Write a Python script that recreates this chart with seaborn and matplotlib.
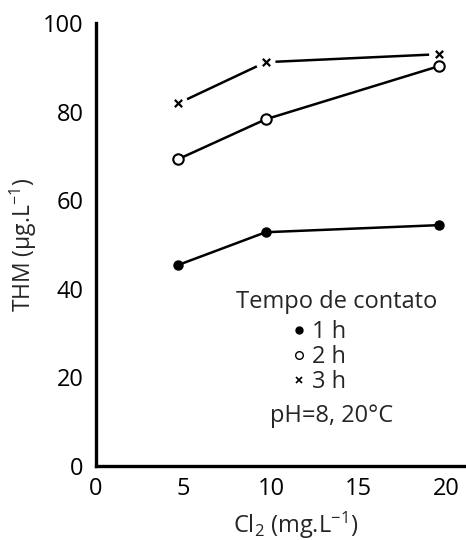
import matplotlib
matplotlib.use("Agg")
import matplotlib.pyplot as plt
from matplotlib.lines import Line2D
import seaborn as sns
import pandas as pd

# Chlorine dose (mg/L) and THM formation (ug/L) per contact time
cl2_dose = [4.7, 9.7, 19.6]
thm_1h = [45.4, 52.8, 54.4]
thm_2h = [69.3, 78.3, 90.3]
thm_3h = [81.9, 91.2, 93.0]
series_labels = ["1 h", "2 h", "3 h"]
x_ticks = [0, 5, 10, 15, 20]
y_ticks = [0, 20, 40, 60, 80, 100]

df = pd.DataFrame({
    "cl2": cl2_dose * 3,
    "thm": thm_1h + thm_2h + thm_3h,
    "tempo": [s for s in series_labels for _ in cl2_dose],
})

sns.set_theme(style="white")
plt.rcParams["font.family"] = ["Open Sans", "DejaVu Sans"]
plt.rcParams["mathtext.fontset"] = "custom"
plt.rcParams["mathtext.rm"] = "Open Sans"
plt.rcParams["mathtext.default"] = "regular"

fig = plt.figure(figsize=(4.66, 5.4), dpi=100)
ax = fig.add_axes([0.206, 0.137, 0.794, 0.820])

lw = 1.8
d1 = df[df.tempo == "1 h"]
d2 = df[df.tempo == "2 h"]
d3 = df[df.tempo == "3 h"]

# 3 h: line broken around the cross markers
sns.lineplot(data=d3, x="cl2", y="thm", color="black", lw=lw, ax=ax,
             zorder=2, legend=False)
sns.scatterplot(data=d3, x="cl2", y="thm", marker="o", s=200, color="white",
                edgecolor="none", linewidth=0, ax=ax, zorder=2.5, legend=False)
sns.scatterplot(data=d3, x="cl2", y="thm", marker="x", s=28, color="black",
                linewidth=1.6, ax=ax, zorder=3, legend=False)

sns.lineplot(data=d2, x="cl2", y="thm", color="black", lw=lw, marker="o",
             markersize=7.5, markerfacecolor="white", markeredgecolor="black",
             markeredgewidth=1.5, ax=ax, zorder=4, legend=False)
sns.lineplot(data=d1, x="cl2", y="thm", color="black", lw=lw, marker="o",
             markersize=6.5, markerfacecolor="black", markeredgecolor="black",
             markeredgewidth=1, ax=ax, zorder=4, legend=False)

ax.set_xlim(0, 21.15)
ax.set_ylim(0, 100)
ax.set_xticks(x_ticks)
ax.set_yticks(y_ticks)
ax.tick_params(axis="both", direction="in", length=7, width=0.7,
               color="#666666", labelsize=17, labelcolor="black")
ax.tick_params(axis="y", pad=9)
ax.tick_params(axis="x", pad=8)

for side in ["top", "right"]:
    ax.spines[side].set_visible(False)
for side in ["left", "bottom"]:
    ax.spines[side].set_linewidth(2.4)
    ax.spines[side].set_color("black")

ax.set_xlabel("Cl$_2$ (mg.L$^{-1}$)", fontsize=17)
ax.xaxis.set_label_coords(0.54, -0.098)
ax.set_ylabel("THM (µg.L$^{-1}$)", fontsize=16.5, labelpad=3)

# Legend block: title, marker entries, then conditions
ax.text(0.651, 0.370, "Tempo de contato", transform=ax.transAxes,
        ha="center", va="center", fontsize=17)
handles = [
    Line2D([], [], ls="none", marker="o", ms=5, mfc="black", mec="black"),
    Line2D([], [], ls="none", marker="o", ms=5.5, mfc="white", mec="black", mew=1),
    Line2D([], [], ls="none", marker="x", ms=4.5, mec="black", mew=1.2),
]
leg = ax.legend(handles, series_labels,
                loc="upper center", bbox_to_anchor=(0.605, 0.330),
                frameon=False, fontsize=17,
                handlelength=0.5, handletextpad=0.3, labelspacing=0.05,
                borderpad=0, borderaxespad=0)

ax.text(0.638, 0.113, "pH=8, 20°C", transform=ax.transAxes,
        ha="center", va="center", fontsize=17)

fig.savefig("out.png", dpi=100)
